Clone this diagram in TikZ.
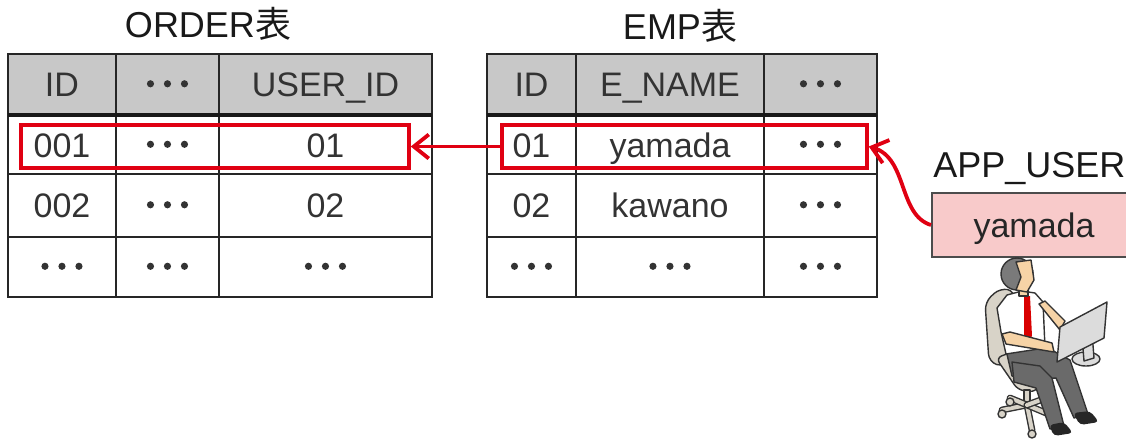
\documentclass[tikz,border=0pt]{standalone}
\usepackage{fontspec}
\setmainfont{Liberation Sans}
\newfontfamily\cjk{Noto Sans CJK JP}
\newfontfamily\cjkdots[FakeBold=4]{Noto Sans CJK JP}
\usepackage{xcolor}
\usetikzlibrary{arrows.meta, positioning}

\definecolor{headgray}{HTML}{C8C8C8}
\definecolor{linkred}{HTML}{E00012}
\definecolor{userpink}{HTML}{F8CACA}
\definecolor{skin}{HTML}{F6D3A6}
\definecolor{chairbeige}{HTML}{D8D3C8}
\definecolor{pantsgray}{HTML}{6A6A6A}
\definecolor{hairgray}{HTML}{7A7A7A}
\definecolor{screengray}{HTML}{DCDCDC}

\newcommand{\ddd}{{\cjkdots ･･･}}

\tikzset{
  tablegrid/.style={draw=black!85, line width=1pt},
  headline/.style={draw=black!90, line width=2pt},
  tcell/.style={text=black!80, font=\fontsize{17}{20}\selectfont, inner sep=0pt,
    text height=12.2pt, text depth=0pt},
  ttitle/.style={tcell, text=black!90, font=\fontsize{18}{21}\selectfont},
  redbox/.style={draw=linkred, line width=1.75pt, inner sep=0pt, minimum height=21.5pt},
  link/.style={draw=linkred, line width=1.9pt,
    -{Straight Barb[length=7.5pt,width=12pt,line width=1.9pt]}},
  userbox/.style={tcell, draw=black!70, fill=userpink, line width=1pt,
    minimum width=102pt, minimum height=32pt, text=black!85},
  fig/.style={draw=black!80, line width=0.7pt, line join=round},
}

\begin{document}
\begin{tikzpicture}[x=0.5pt, y=-0.5pt]
    \useasboundingbox (0,0) rectangle (1126,440);

    % ORDER table
    \node[ttitle] (otitle) at (208,25) {ORDER{\cjk 表}};
    \fill[headgray] (8,54) rectangle (432,115);
    \draw[tablegrid] (8,54) rectangle (432,297);
    \foreach \x in {116,219} \draw[tablegrid] (\x,54) -- (\x,297);
    \foreach \y in {174,237} \draw[tablegrid] (8,\y) -- (432,\y);
    \draw[headline] (8,115) -- (432,115);
    \foreach \x/\t/\n in {62/ID/oh1, 167.5/\ddd/oh2, 325.5/USER\_ID/oh3}
        \node[tcell] (\n) at (\x,84.5) {\t};
    \foreach \x/\t/\n in {62/001/oa1, 167.5/\ddd/oa2, 325.5/01/oa3}
        \node[tcell] (\n) at (\x,145) {\t};
    \foreach \x/\t/\n in {62/002/ob1, 167.5/\ddd/ob2, 325.5/02/ob3}
        \node[tcell] (\n) at (\x,205.5) {\t};
    \foreach \x/\t/\n in {62/\ddd/oc1, 167.5/\ddd/oc2, 325.5/\ddd/oc3}
        \node[tcell] (\n) at (\x,267) {\t};

    % EMP table
    \node[ttitle] (etitle) at (680,27) {EMP{\cjk 表}};
    \fill[headgray] (487,54) rectangle (877,115);
    \draw[tablegrid] (487,54) rectangle (877,297);
    \foreach \x in {576,764} \draw[tablegrid] (\x,54) -- (\x,297);
    \foreach \y in {174,237} \draw[tablegrid] (487,\y) -- (877,\y);
    \draw[headline] (487,115) -- (877,115);
    \foreach \x/\t/\n in {531.5/ID/eh1, 670/E\_NAME/eh2, 820.5/\ddd/eh3}
        \node[tcell] (\n) at (\x,84.5) {\t};
    \foreach \x/\t/\n in {531.5/01/ea1, 670/yamada/ea2, 820.5/\ddd/ea3}
        \node[tcell] (\n) at (\x,145) {\t};
    \foreach \x/\t/\n in {531.5/02/eb1, 670/kawano/eb2, 820.5/\ddd/eb3}
        \node[tcell] (\n) at (\x,205.5) {\t};
    \foreach \x/\t/\n in {531.5/\ddd/ec1, 670/\ddd/ec2, 820.5/\ddd/ec3}
        \node[tcell] (\n) at (\x,267) {\t};

    % highlighted rows
    \node[redbox, minimum width=194pt] (ored) at (215,146.5) {};
    \node[redbox, minimum width=182.5pt] (ered) at (684.5,146.5) {};

    % login user
    \node[ttitle, anchor=west] (ulabel) at (933,165) {APP\_USER};
    \node[userbox] (ubox) at (1034,225) {yamada};

    % links
    \draw[link] (ered.west) -- (ored.east);
    \draw[link] (ubox.west) .. controls (898,215) and (908,158) .. (ered.east);

    % chair
    \draw[fig, fill=chairbeige, rounded corners=4pt] (985,302) -- (1000,288) -- (1015,291)
        -- (1013,345) -- (1004,367) -- (989,362) -- cycle;
    \draw[fig, fill=chairbeige, rounded corners=3pt] (996,358) -- (1012,352) -- (1042,378)
        -- (1036,392) -- (1018,390) -- cycle;
    \draw[fig, fill=chairbeige] (1024,390) rectangle (1030,404);
    \foreach \ex/\ey in {1002/410, 1010/398, 1032/430, 1058/418, 1046/398} {
        \draw[black!80, line width=3.4pt, line cap=round] (1027,405) -- (\ex,\ey);
        \draw[chairbeige, line width=2pt, line cap=round] (1027,405) -- (\ex,\ey);
        \draw[fig, fill=chairbeige] (\ex,{\ey+4}) circle (2pt);
    }

    % legs
    \draw[fig, fill=pantsgray] (1006,350) -- (1046,347) -- (1070,360) -- (1088,414)
        -- (1074,418) -- (1056,378) -- (1030,380) -- (1012,376) -- cycle;
    \draw[fig, fill=pantsgray] (1012,362) -- (1040,366) -- (1052,378) -- (1064,426)
        -- (1050,429) -- (1036,388) -- (1014,382) -- cycle;
    \fill[black!85, rounded corners=2pt] (1073,413) -- (1090,411) -- (1099,422) -- (1080,425) -- cycle;
    \fill[black!85, rounded corners=2pt] (1049,425) -- (1064,422) -- (1073,433) -- (1054,436) -- cycle;

    % body
    \draw[fig, fill=white] (997,308) -- (1007,295) -- (1022,291) -- (1035,293) -- (1043,302)
        -- (1045,348) -- (1006,354) -- (1001,332) -- cycle;
    \fill[red!85!black] (1024,296) -- (1030,296) -- (1032,336) -- (1028,341) -- (1024,336) -- cycle;
    \draw[fig, fill=skin] (1039,304) -- (1045,301) -- (1065,321) -- (1060,330) -- cycle;
    \draw[fig, fill=skin] (1002,334) -- (1010,332) -- (1052,343) -- (1054,352) -- (1006,344) -- cycle;

    % head
    \draw[fig, fill=skin] (1019,284) rectangle (1028,296);
    \draw[fig, fill=hairgray] (1017,274) circle (8pt);
    \draw[fig, fill=skin] (1016,262) -- (1031,260) -- (1034,280) -- (1027,292) -- (1016,290)
        -- (1021,277) -- cycle;

    % monitor
    \draw[fig, fill=screengray] (1086,359) ellipse (7pt and 3.5pt);
    \draw[fig, fill=screengray] (1082,336) -- (1092,332) -- (1094,358) -- (1084,361) -- cycle;
    \draw[fig, fill=screengray] (1057,362) -- (1060,327) -- (1107,302) -- (1104,338) -- cycle;
\end{tikzpicture}
\end{document}
